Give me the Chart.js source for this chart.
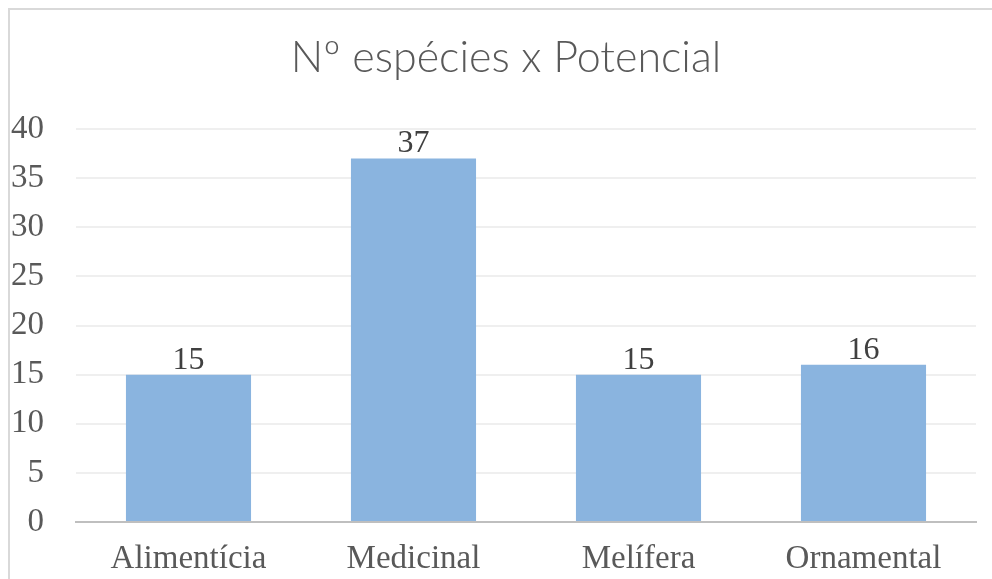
<!DOCTYPE html>
<html>
<head>
<meta charset="utf-8">
<script src="https://cdn.jsdelivr.net/npm/chart.js@4"></script>
<style>
  html, body { margin: 0; padding: 0; background: #fff; }
  #wrap { position: relative; width: 992px; height: 579px; }
  #frame { position: absolute; left: 8px; top: 8px; width: 1000px; height: 600px;
           border: 2px solid #d9d9d9; box-sizing: border-box; pointer-events: none; }
</style>
</head>
<body>
<div id="wrap">
  <canvas id="myChart" width="992" height="579"></canvas>
  <div id="frame"></div>
</div>
<script>
let categories = ["Alimentícia", "Medicinal", "Melífera", "Ornamental"];
let especies = [15, 37, 15, 16];
let yTicks = [0, 5, 10, 15, 20, 25, 30, 35, 40];
let chartTitle = "Nº espécies x Potencial";

let serif = "'Liberation Serif', 'Times New Roman', serif";

// numbers above the bars + title centred on the whole frame
let barLabels = {
    id: "barLabels",
    afterDatasetsDraw: function (chart) {
        let c = chart.ctx;
        let meta = chart.getDatasetMeta(0);
        c.save();
        c.font = "32px " + serif;
        c.fillStyle = "#404040";
        c.textAlign = "center";
        c.textBaseline = "alphabetic";
        meta.data.forEach(function (bar, i) {
            c.fillText(String(especies[i]), bar.x, bar.y - 6);
        });

        c.font = "300 43px Lato";
        c.fillStyle = "#595959";
        c.textBaseline = "middle";
        c.fillText(chartTitle, 506, 58);
        c.restore();
    },
};

let ctx = document.getElementById("myChart").getContext("2d");
let chart = new Chart(ctx, {
    type: "bar",
    data: {
        labels: categories,
        datasets: [
            {
                data: especies,
                backgroundColor: "#8ab4df",
                borderWidth: 0,
                categoryPercentage: 1,
                barPercentage: 0.556,
            },
        ],
    },
    options: {
        responsive: false,
        animation: false,
        layout: { padding: { left: 0, right: 16, top: 129, bottom: 0 } },
        plugins: {
            legend: { display: false },
            tooltip: { enabled: false },
            title: { display: false },
        },
        scales: {
            x: {
                grid: { display: false },
                border: { color: "#bfbfbf", width: 2 },
                ticks: {
                    color: "#595959",
                    font: { family: serif, size: 33 },
                    padding: 10,
                },
                afterFit: function (scale) {
                    scale.height = 57;
                },
            },
            y: {
                min: 0,
                max: 40,
                afterBuildTicks: function (scale) {
                    scale.ticks = yTicks.map(function (v) {
                        return { value: v };
                    });
                },
                border: { display: false },
                grid: {
                    drawTicks: false,
                    lineWidth: 2,
                    color: function (c) {
                        return c.tick && c.tick.value === 0 ? "rgba(0,0,0,0)" : "#efefef";
                    },
                },
                ticks: {
                    color: "#595959",
                    font: { family: serif, size: 33 },
                    padding: 32,
                },
                afterFit: function (scale) {
                    scale.width = 76;
                },
            },
        },
    },
    plugins: [barLabels],
});
</script>
</body>
</html>
